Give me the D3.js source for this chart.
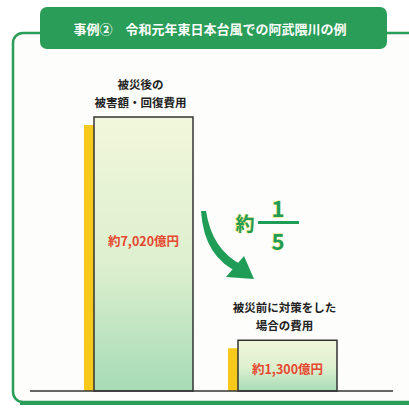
<!DOCTYPE html>
<html>
<head>
<meta charset="utf-8">
<script src="https://cdn.jsdelivr.net/npm/d3@7"></script>
<style>
  html, body { margin: 0; padding: 0; background: #fff; }
  svg { display: block; font-family: 'Noto Sans CJK JP', 'Noto Sans', sans-serif; }
</style>
</head>
<body>
<div id="chart"></div>
<script>
// data
const title = '事例②　令和元年東日本台風での阿武隈川の例'
const categories = ['after', 'before']
const values = [7020, 1300]
const categoryLabels = [['被災後の', '被害額・回復費用'], ['被災前に対策をした', '場合の費用']]
const valueLabels = ['約7,020億円', '約1,300億円']
const ratioLabel = { prefix: '約', num: '1', den: '5' }

const width = 409
const height = 412
const green = '#2a9d58'

const svg = d3.select('#chart')
  .append('svg')
  .attr('width', width)
  .attr('height', height)

const defs = svg.append('defs')
const grad = defs.append('linearGradient')
  .attr('id', 'barFill')
  .attr('x1', 0).attr('y1', 0).attr('x2', 0).attr('y2', 1)
grad.append('stop').attr('offset', '0%').attr('stop-color', '#f2f7dc')
grad.append('stop').attr('offset', '55%').attr('stop-color', '#dcefce')
grad.append('stop').attr('offset', '100%').attr('stop-color', '#a6dbb6')

// frame
svg.append('rect')
  .attr('x', 13).attr('y', 33)
  .attr('width', 410).attr('height', 369)
  .attr('rx', 10)
  .attr('fill', '#fdfdfb')
  .attr('stroke', green)
  .attr('stroke-width', 2.5)
svg.append('line')
  .attr('x1', 20).attr('x2', width)
  .attr('y1', 403).attr('y2', 403)
  .attr('stroke', green)
  .attr('stroke-width', 4)

// title box
svg.append('rect')
  .attr('x', 40).attr('y', 7)
  .attr('width', 347).attr('height', 42)
  .attr('rx', 7)
  .attr('fill', green)
svg.append('text')
  .attr('x', 210).attr('y', 28)
  .attr('text-anchor', 'middle')
  .attr('dominant-baseline', 'central')
  .attr('fill', '#fff')
  .attr('font-size', 13)
  .attr('font-weight', 'bold')
  .text(title)

// scales
const x = d3.scaleBand()
  .domain(categories)
  .range([94, 337])
  .paddingInner(0.3125)
  .paddingOuter(0)

const y = d3.scaleLinear()
  .domain([0, 7020])
  .range([391, 117])

const data = categories.map((c, i) => ({ key: c, value: values[i], cat: categoryLabels[i], label: valueLabels[i] }))

// yellow shadow strip
svg.append('g')
  .selectAll('rect')
  .data(data)
  .join('rect')
  .attr('x', d => x(d.key) - 10)
  .attr('y', d => y(d.value) + 8)
  .attr('width', 10)
  .attr('height', d => y(0) - y(d.value) - 8)
  .attr('fill', '#f6c91a')

// bars
svg.append('g')
  .selectAll('rect')
  .data(data)
  .join('rect')
  .attr('x', d => x(d.key))
  .attr('y', d => y(d.value))
  .attr('width', x.bandwidth())
  .attr('height', d => y(0) - y(d.value))
  .attr('fill', 'url(#barFill)')
  .attr('stroke', '#333')
  .attr('stroke-width', 1.5)

// baseline
svg.append('line')
  .attr('x1', 30).attr('x2', 393)
  .attr('y1', y(0)).attr('y2', y(0))
  .attr('stroke', '#333')
  .attr('stroke-width', 1.5)

// category labels
const catText = svg.append('g')
  .selectAll('text')
  .data(data)
  .join('text')
  .attr('text-anchor', 'middle')
  .attr('font-size', 11.5)
  .attr('font-weight', 'bold')
  .attr('fill', '#222')
catText.selectAll('tspan')
  .data(d => d.cat.map((t, j) => ({ t, j, d })))
  .join('tspan')
  .attr('x', e => x(e.d.key) + x.bandwidth() / 2 - 3)
  .attr('y', e => y(e.d.value) - 28 + e.j * 18)
  .text(e => e.t)

// value labels
svg.append('g')
  .selectAll('text')
  .data(data)
  .join('text')
  .attr('x', d => x(d.key) + x.bandwidth() / 2)
  .attr('y', d => y(d.value) + Math.min(123, (y(0) - y(d.value)) * 0.55))
  .attr('text-anchor', 'middle')
  .attr('dominant-baseline', 'central')
  .attr('font-size', 12.5)
  .attr('font-weight', 'bold')
  .attr('fill', '#e8472f')
  .text(d => d.label)

// curved arrow
const arrow = svg.append('g').attr('fill', '#1f9d57')
arrow.append('path')
  .attr('d', 'M201,211 Q204,258 240,273 L242,265 Q212,250 206,211 Z')
arrow.append('path')
  .attr('d', 'M254,279 L226,277 L244,256 Z')

// ratio 1/5
const ratio = svg.append('g')
  .attr('fill', '#1f9d57')
  .attr('stroke', '#f3e35a')
  .attr('stroke-width', 0.8)
  .attr('paint-order', 'stroke')
  .attr('font-weight', 'bold')
ratio.append('text')
  .attr('x', 245).attr('y', 222)
  .attr('text-anchor', 'middle')
  .attr('dominant-baseline', 'central')
  .attr('font-size', 19)
  .text(ratioLabel.prefix)
ratio.append('text')
  .attr('x', 278).attr('y', 207)
  .attr('text-anchor', 'middle')
  .attr('dominant-baseline', 'central')
  .attr('font-size', 22)
  .text(ratioLabel.num)
ratio.append('text')
  .attr('x', 278).attr('y', 240)
  .attr('text-anchor', 'middle')
  .attr('dominant-baseline', 'central')
  .attr('font-size', 22)
  .text(ratioLabel.den)
ratio.append('rect')
  .attr('x', 258).attr('y', 221)
  .attr('width', 41).attr('height', 3)
  .attr('stroke', 'none')
</script>
</body>
</html>
